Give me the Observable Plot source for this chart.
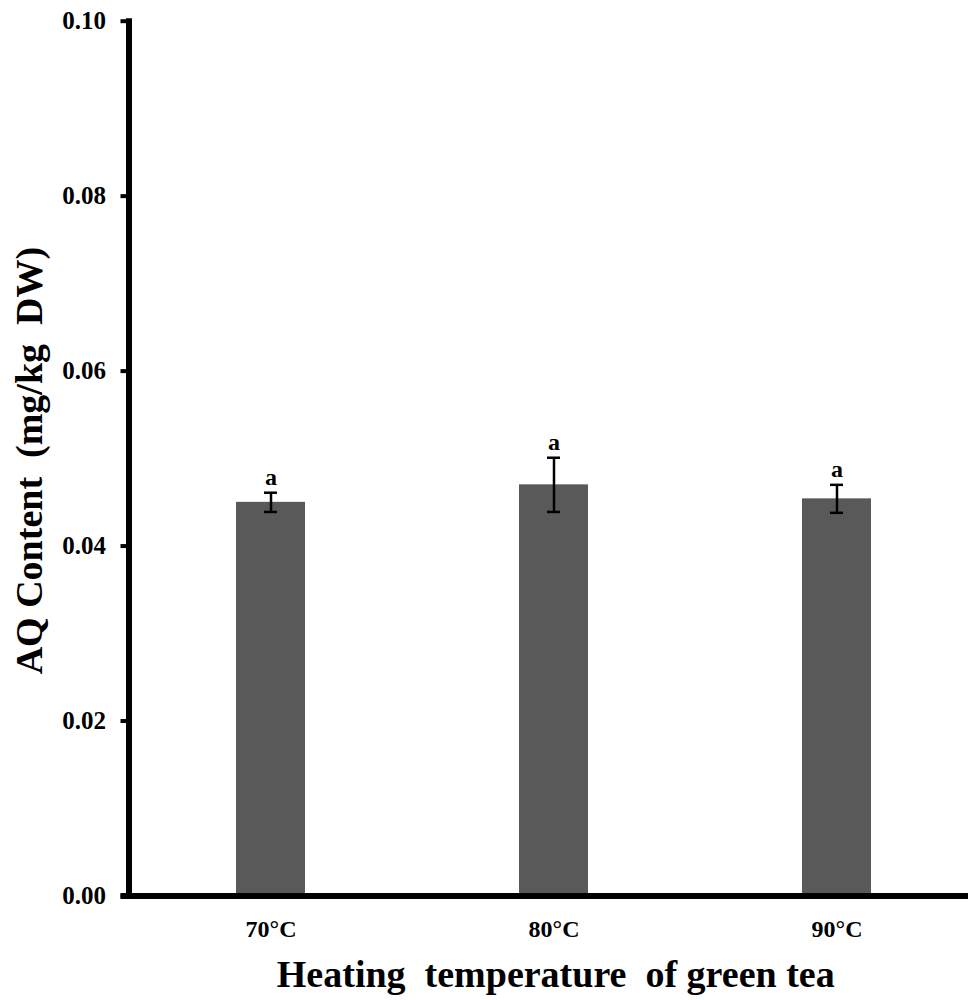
<!DOCTYPE html>
<html>
<head>
<meta charset="utf-8">
<script src="https://cdn.jsdelivr.net/npm/d3@7"></script>
<script src="https://cdn.jsdelivr.net/npm/@observablehq/plot@0.6"></script>
<style>
  html, body { margin: 0; padding: 0; background: #fff; }
</style>
</head>
<body>
<div id="chart"></div>
<script>
const categories = ["70°C", "80°C", "90°C"];
const means = [0.0450, 0.0470, 0.0454];
const errors = [0.0011, 0.0031, 0.0016];
const letters = ["a", "a", "a"];
const yTicks = [0, 0.02, 0.04, 0.06, 0.08, 0.10];

const data = categories.map((c, i) => ({
  temp: c,
  mean: means[i],
  lo: means[i] - errors[i],
  hi: means[i] + errors[i],
  letter: letters[i]
}));

const font = "'Liberation Serif', 'Times New Roman', serif";

const chart = Plot.plot({
  width: 969,
  height: 1000,
  marginLeft: 128.5,
  marginRight: 1,
  marginTop: 20.7,
  marginBottom: 104.5,
  style: { fontFamily: font, fontWeight: "bold", color: "#000", background: "#fff" },
  x: {
    type: "band",
    domain: categories,
    range: [129.2, 978.2],
    paddingInner: 0.756,
    paddingOuter: 0.378,
    align: 0.5
  },
  y: { domain: [0, 0.1] },
  marks: [
    Plot.barY(data, { x: "temp", y: "mean", fill: "#595959" }),
    Plot.ruleX(data, { x: "temp", y1: "lo", y2: "hi", stroke: "#000", strokeWidth: 2.5 }),
    Plot.tickY(data, { x: "temp", y: "lo", stroke: "#000", strokeWidth: 2.5, insetLeft: 28, insetRight: 28 }),
    Plot.tickY(data, { x: "temp", y: "hi", stroke: "#000", strokeWidth: 2.5, insetLeft: 28, insetRight: 28 }),
    Plot.text(data, { x: "temp", y: "hi", text: "letter", dy: -8, lineAnchor: "bottom", fontSize: 24, fontWeight: "bold", fill: "#000" }),
    Plot.axisY({ ticks: yTicks, tickFormat: d3.format(".2f"), tickSize: 8, tickPadding: 15, strokeWidth: 4, fontSize: 25, label: null }),
    Plot.axisX({ tickSize: 0, tickPadding: 24, fontSize: 24, label: null }),
    Plot.ruleY([0], { stroke: "#000", strokeWidth: 6, insetLeft: -8 }),
    Plot.frame({ anchor: "left", stroke: "#000", strokeWidth: 6 }),
    Plot.text(["Heating  temperature  of green tea"], { frameAnchor: "bottom", dx: 7, dy: 91, lineAnchor: "bottom", fontSize: 38, fontWeight: "bold", fill: "#000" }),
    Plot.text(["AQ Content  (mg/kg  DW)"], { frameAnchor: "left", dx: -114, dy: 2, rotate: -90, textAnchor: "middle", lineAnchor: "top", fontSize: 38, fontWeight: "bold", fill: "#000" })
  ]
});

document.getElementById("chart").appendChild(chart);
</script>
</body>
</html>
